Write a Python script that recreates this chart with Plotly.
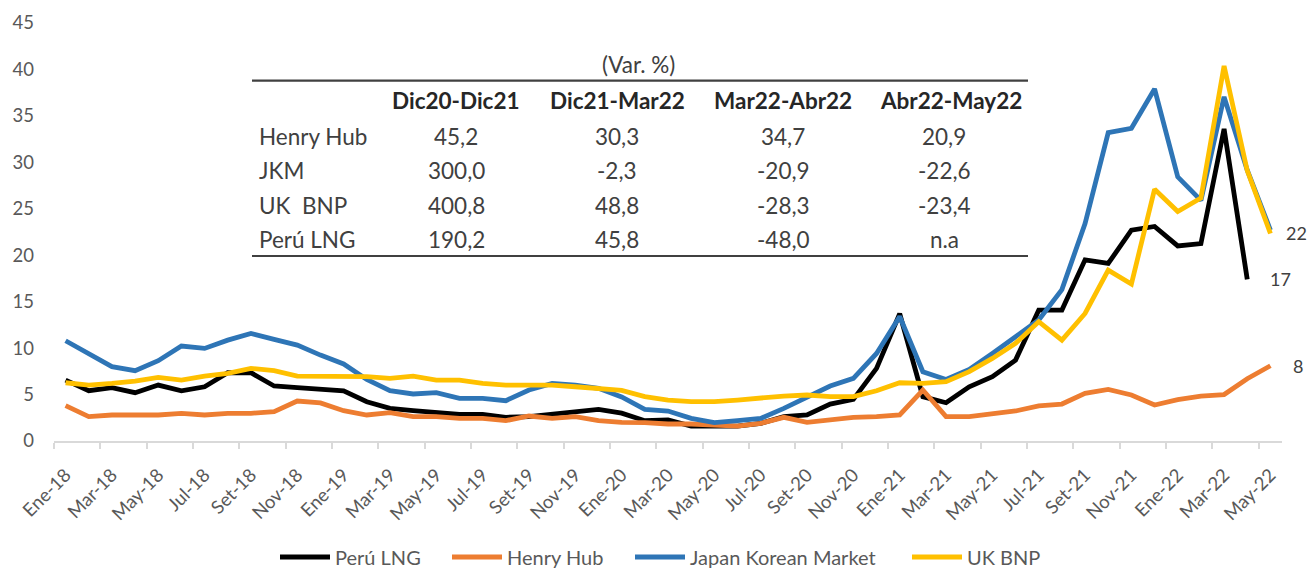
import plotly.graph_objects as go

# ---------------- data ----------------
categories = [
    "Ene-18", "Feb-18", "Mar-18", "Abr-18", "May-18", "Jun-18", "Jul-18", "Ago-18", "Set-18", "Oct-18", "Nov-18", "Dic-18",
    "Ene-19", "Feb-19", "Mar-19", "Abr-19", "May-19", "Jun-19", "Jul-19", "Ago-19", "Set-19", "Oct-19", "Nov-19", "Dic-19",
    "Ene-20", "Feb-20", "Mar-20", "Abr-20", "May-20", "Jun-20", "Jul-20", "Ago-20", "Set-20", "Oct-20", "Nov-20", "Dic-20",
    "Ene-21", "Feb-21", "Mar-21", "Abr-21", "May-21", "Jun-21", "Jul-21", "Ago-21", "Set-21", "Oct-21", "Nov-21", "Dic-21",
    "Ene-22", "Feb-22", "Mar-22", "Abr-22", "May-22",
]

peru_lng = [
    6.56, 5.41, 5.74, 5.20, 6.02, 5.41, 5.84, 7.35, 7.35, 5.92, 5.74, 5.55,
    5.41, 4.23, 3.51, 3.26, 3.05, 2.87, 2.87, 2.55, 2.62, 2.90, 3.26, 3.41,
    3.00, 2.19, 2.26, 1.61, 1.61, 1.61, 1.90, 2.62, 2.80, 3.98, 4.48, 7.82,
    13.70, 4.77, 4.12, 5.84, 6.92, 8.71, 14.09, 14.09, 19.50, 19.11, 22.70, 23.10,
    21.00, 21.25, 33.60, 17.40, None,
]

henry_hub = [
    3.80, 2.62, 2.80, 2.80, 2.80, 2.98, 2.80, 2.98, 2.98, 3.16, 4.30, 4.10,
    3.26, 2.80, 3.05, 2.62, 2.62, 2.44, 2.44, 2.19, 2.69, 2.44, 2.62, 2.19,
    2.00, 1.97, 1.83, 1.83, 1.72, 1.61, 1.90, 2.55, 2.00, 2.33, 2.55, 2.62,
    2.80, 5.49, 2.62, 2.62, 2.98, 3.23, 3.77, 3.98, 5.13, 5.56, 4.95, 3.87,
    4.45, 4.84, 5.00, 6.70, 8.10,
]

japan_korean = [
    10.79, 9.43, 8.00, 7.57, 8.64, 10.22, 9.97, 10.86, 11.58, 10.94, 10.33, 9.25,
    8.30, 6.63, 5.41, 5.06, 5.20, 4.59, 4.59, 4.34, 5.49, 6.20, 6.02, 5.67,
    4.75, 3.41, 3.23, 2.44, 1.97, 2.19, 2.44, 3.51, 4.70, 5.92, 6.74, 9.43,
    13.40, 7.46, 6.63, 7.71, 9.43, 11.22, 13.02, 16.30, 23.41, 33.20, 33.67, 37.90,
    28.44, 25.90, 37.05, 29.15, 22.70,
]

uk_bnp = [
    6.27, 6.02, 6.20, 6.45, 6.85, 6.56, 6.99, 7.28, 7.82, 7.57, 6.99, 6.99,
    6.99, 6.92, 6.74, 6.99, 6.56, 6.56, 6.20, 6.02, 6.02, 6.02, 5.84, 5.67,
    5.45, 4.77, 4.41, 4.23, 4.23, 4.41, 4.66, 4.84, 4.95, 4.77, 4.77, 5.41,
    6.27, 6.20, 6.38, 7.46, 8.89, 10.51, 12.84, 10.86, 13.73, 18.39, 16.90, 27.10,
    24.70, 26.15, 40.38, 29.10, 22.34,
]

series_names = ["Perú LNG", "Henry Hub", "Japan Korean Market", "UK BNP"]
series_values = [peru_lng, henry_hub, japan_korean, uk_bnp]
series_colors = ["#000000", "#ED7D31", "#2E75B6", "#FFC000"]

# table (Var. %)
table_title = "(Var. %)"
table_columns = ["Dic20-Dic21", "Dic21-Mar22", "Mar22-Abr22", "Abr22-May22"]
table_rows = ["Henry Hub", "JKM", "UK  BNP", "Perú LNG"]
table_values = [
    ["45,2", "30,3", "34,7", "20,9"],
    ["300,0", "-2,3", "-20,9", "-22,6"],
    ["400,8", "48,8", "-28,3", "-23,4"],
    ["190,2", "45,8", "-48,0", "n.a"],
]

# ---------------- layout geometry ----------------
W, H = 1309, 569
ML, MR, MT, MB = 54, 27, 23, 128
PW, PH = W - ML - MR, H - MT - MB


def pxx(px):
    return (px - ML) / PW


def pxy(py):
    return (H - MB - py) / PH


FONT = "Lato"
GRAY = "#595959"
DARK = "#404040"

legend_ids = ["legend", "legend2", "legend3", "legend4"]
legend_left_px = [275, 447, 630, 907]

fig = go.Figure()
for name, vals, col, lid in zip(series_names, series_values, series_colors, legend_ids):
    fig.add_trace(go.Scatter(
        x=categories, y=vals, name=name, mode="lines", legend=lid,
        line=dict(color=col, width=4.8), connectgaps=False, hoverinfo="skip",
    ))

# end-of-line labels
annotations = []
end_specs = [(uk_bnp, 15), (peru_lng, 22), (henry_hub, 22)]
for vals, shift in end_specs:
    idx = max(i for i, v in enumerate(vals) if v is not None)
    annotations.append(dict(
        x=categories[idx], y=vals[idx], xref="x", yref="y",
        text=str(int(round(vals[idx]))), showarrow=False,
        xanchor="left", yanchor="middle", xshift=shift, borderpad=0,
        font=dict(family=FONT, size=18, color=DARK),
    ))

# table
col_centers = [456, 617, 783, 951]
row_ys = [136, 170, 205, 239]
TFS = 22.5
annotations.append(dict(
    x=pxx(638), y=pxy(65), xref="paper", yref="paper", text=table_title,
    showarrow=False, xanchor="center", yanchor="middle",
    font=dict(family=FONT, size=TFS, color=DARK),
))
for c, head in enumerate(table_columns):
    annotations.append(dict(
        x=pxx(col_centers[c]), y=pxy(100), xref="paper", yref="paper",
        text="<b>" + head + "</b>", showarrow=False, xanchor="center", yanchor="middle",
        font=dict(family=FONT, size=TFS, color="#262626"),
    ))
for r, rname in enumerate(table_rows):
    annotations.append(dict(
        x=pxx(257), y=pxy(row_ys[r]), xref="paper", yref="paper",
        text=rname.replace("  ", "&nbsp; "), showarrow=False, xanchor="left", yanchor="middle",
        font=dict(family=FONT, size=TFS, color=DARK),
    ))
    for c, val in enumerate(table_values[r]):
        annotations.append(dict(
            x=pxx(col_centers[c] - (7 if c == 3 else 0)), y=pxy(row_ys[r]),
            xref="paper", yref="paper", text=val, showarrow=False,
            xanchor="center", yanchor="middle",
            font=dict(family=FONT, size=TFS, color=DARK),
        ))

shapes = []
for ry in (80.7, 256):
    shapes.append(dict(
        type="line", xref="paper", yref="paper",
        x0=pxx(252), x1=pxx(1028), y0=pxy(ry), y1=pxy(ry),
        line=dict(color=DARK, width=2.2),
    ))

legends = {}
for lid, lx in zip(legend_ids, legend_left_px):
    legends[lid] = dict(
        orientation="h", x=pxx(lx), xanchor="left", y=pxy(557), yanchor="middle",
        font=dict(family=FONT, size=20, color=GRAY),
        itemwidth=50, bgcolor="rgba(0,0,0,0)",
    )

fig.update_layout(
    width=W, height=H,
    margin=dict(l=ML, r=MR, t=MT, b=MB, pad=0, autoexpand=False),
    paper_bgcolor="white", plot_bgcolor="white",
    font=dict(family=FONT, color=GRAY),
    showlegend=True,
    hovermode=False,
    xaxis=dict(
        type="category", range=[-0.5, 52.5], automargin=False,
        tickmode="linear", tick0=0, dtick=2,
        tickson="boundaries", ticks="outside", ticklen=6, tickwidth=1.5,
        tickcolor="#D9D9D9", showline=True, linecolor="#D9D9D9", linewidth=2,
        showgrid=False, zeroline=False, tickangle=-45, ticklabelstandoff=14,
        tickfont=dict(family=FONT, size=18.5, color=GRAY),
    ),
    yaxis=dict(
        range=[0, 45], tickmode="linear", tick0=0, dtick=5, automargin=False,
        showgrid=False, zeroline=False, showline=False, ticks="",
        ticklabelstandoff=19,
        tickfont=dict(family=FONT, size=18.5, color=GRAY),
    ),
    annotations=annotations,
    shapes=shapes,
    **legends,
)

fig.write_html(
    "out.html",
    config={"displayModeBar": False},
    post_script="document.body.style.margin='0px';",
)
